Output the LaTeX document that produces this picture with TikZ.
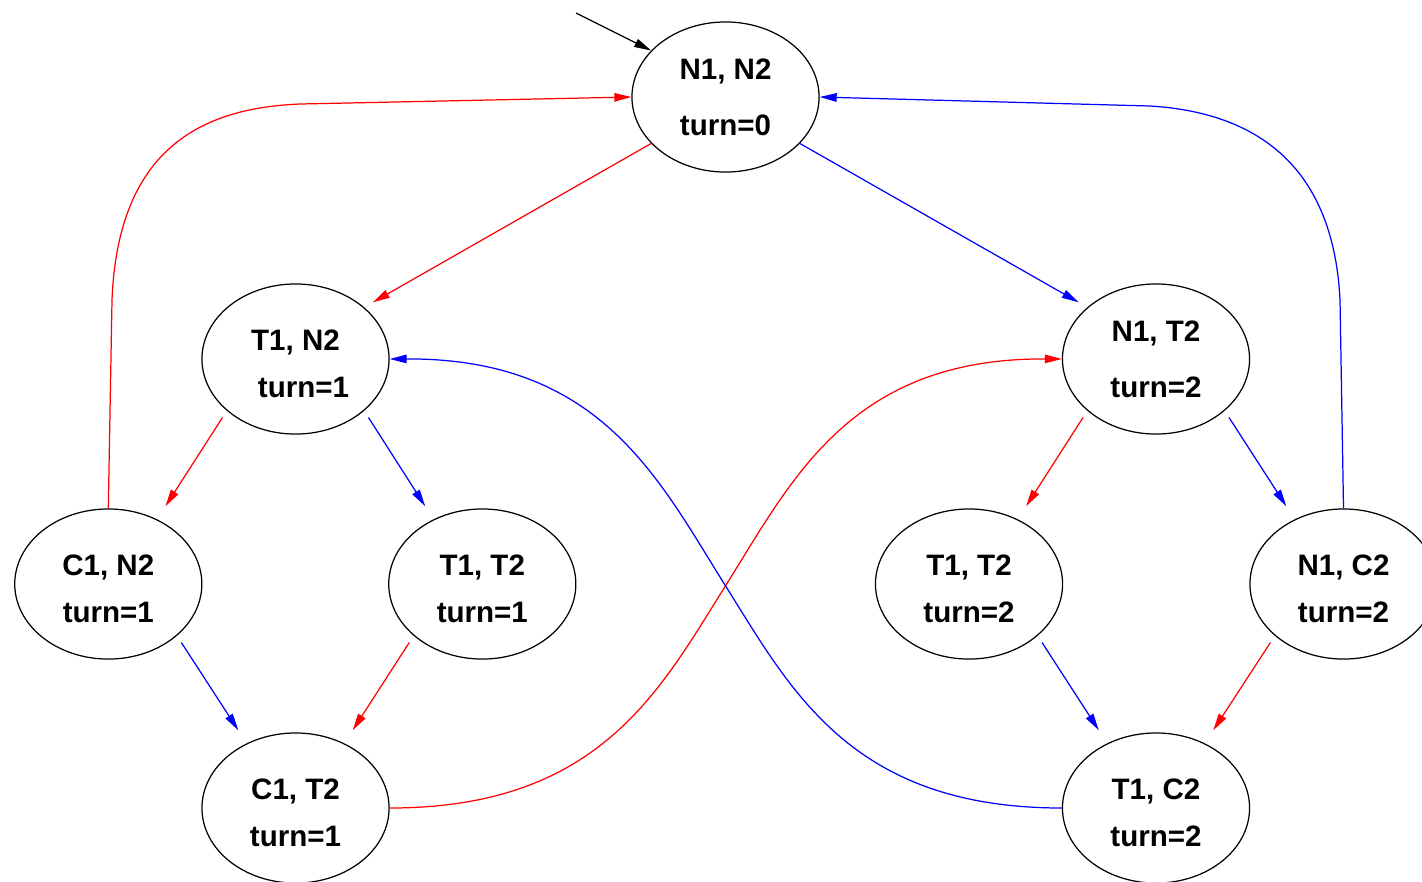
\documentclass[tikz,border=0pt]{standalone}
\usepackage{fontspec}
\setmainfont{Liberation Sans}
\usetikzlibrary{shapes.geometric,arrows.meta}
\newcommand{\liftline}{\rule{0pt}{0.31cm}}

\begin{document}
\begin{tikzpicture}[x=0.01cm,y=-0.01cm,line width=0.35pt,
        >={Triangle[length=0.17cm,width=0.085cm]},
        st/.style={ellipse,draw,minimum width=1.87cm,minimum height=1.5cm,inner sep=0pt,
                   align=center,font=\fontsize{8.4}{13.4}\selectfont\bfseries},
        gap/.style={shorten <=0.08cm,shorten >=0.155cm}]
        \useasboundingbox (0,0) rectangle (1422,881);
        % states
        \draw (725.5,97)  node[st] (nn)  {N1, N2\\[0.09cm]turn=0};
        \draw (295.5,359) node[st] (tn)  {\liftline T1, N2\\\hspace*{0.16cm}turn=1};
        \draw (1156,359)  node[st] (nt)  {N1, T2\\[0.09cm]turn=2};
        \draw (108.3,584) node[st] (cn)  {\liftline C1, N2\\turn=1};
        \draw (482.3,584) node[st] (tta) {\liftline T1, T2\\turn=1};
        \draw (969,584)   node[st] (ttb) {\liftline T1, T2\\turn=2};
        \draw (1343.5,584) node[st] (nc) {\liftline N1, C2\\turn=2};
        \draw (295.5,808) node[st] (ct)  {\liftline C1, T2\\turn=1};
        \draw (1156,808)  node[st] (tc)  {\liftline T1, C2\\turn=2};
        % initial state
        \coordinate (init) at (576,13);
        \draw[->] (init) -- (nn.148);
        % process 1 moves
        \draw[red,->,shorten >=0.1cm] (nn.212) -- (tn.37);
        \draw[red,->,gap] (tn.217) -- (cn.53);
        \draw[red,->,gap] (tta.217) -- (ct.53);
        \draw[red,->,gap] (nt.217) -- (ttb.53);
        \draw[red,->,gap] (nc.217) -- (tc.53);
        \draw[red,->] (cn.north) -- (112,300) .. controls (118,150) and (200,108) .. (300,104) -- (nn.west);
        \draw[red,->] (ct.east) .. controls (600,808) and (660,690) .. (726,585)
              .. controls (792,480) and (850,358) .. (nt.west);
        % process 2 moves
        \draw[blue,->,shorten >=0.1cm] (nn.328) -- (nt.143);
        \draw[blue,->,gap] (tn.323) -- (tta.127);
        \draw[blue,->,gap] (cn.323) -- (ct.127);
        \draw[blue,->,gap] (nt.323) -- (nc.127);
        \draw[blue,->,gap] (ttb.323) -- (tc.127);
        \draw[blue,->] (nc.north) -- (1340,300) .. controls (1333,160) and (1250,112) .. (1150,106) -- (nn.east);
        \draw[blue,->] (tc.west) .. controls (851,808) and (791,690) .. (725,585)
              .. controls (659,480) and (601,358) .. (tn.east);
\end{tikzpicture}
\end{document}
